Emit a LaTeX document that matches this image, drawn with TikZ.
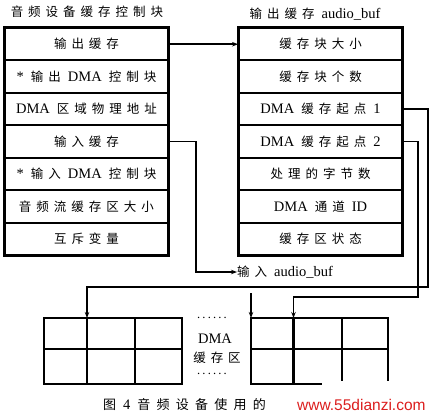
\documentclass[tikz,border=0pt]{standalone}
\usepackage{fontspec}
\setmainfont{Liberation Serif}
\newfontfamily\cjk[LetterSpace=40]{Noto Sans CJK SC}
\newfontfamily\cjkc[LetterSpace=48]{Noto Sans CJK SC}
\newfontfamily\wmfont{Liberation Sans}
\usetikzlibrary{arrows.meta}
\definecolor{wmred}{RGB}{220,30,30}
\newcommand\lat[1]{{\fontsize{14.5}{15}\selectfont #1}}
\newcommand\gp{\hspace{7pt}}
\newcommand\dotrow{.\kern2.2pt.\kern2.2pt.\kern2.2pt.\kern2.2pt.\kern2.2pt.}
\begin{document}
\begin{tikzpicture}[x=1pt,y=-1pt,
  cell/.style={draw, line width=1.9pt, minimum width=163pt, minimum height=32.43pt,
    inner sep=0pt, font=\fontsize{12.5}{15}\selectfont},
  conn/.style={line width=1.6pt, -{Stealth[length=6pt,width=4.5pt]}},
  lbl/.style={inner sep=0pt, font=\fontsize{12.5}{15}\selectfont},
  gridline/.style={line width=1.9pt},
  thickline/.style={line width=2.8pt}]
\useasboundingbox (0,0) rectangle (432,416);
% titles
\node[lbl] (tl) at (87,12) {\cjk 音频设备缓存控制块};
\node[lbl] (tr) at (315,14) {{\cjk 输出缓存}\gp\lat{audio\_buf}};
% left table
\foreach \t [count=\i] in {{\cjk 输出缓存},{\lat{*}\gp{\cjk 输出}\gp\lat{DMA}\gp{\cjk 控制块}},{\lat{DMA}\gp{\cjk 区域物理地址}},{\cjk 输入缓存},{\lat{*}\gp{\cjk 输入}\gp\lat{DMA}\gp{\cjk 控制块}},{\cjk 音频流缓存区大小},{\cjk 互斥变量}}
  \node[cell] (l\i) at (86.5,{28+32.43*\i-16.215}) {\t};
\draw[line width=2.2pt] (l1.north west) rectangle (l7.south east);
% right table
\foreach \t [count=\i] in {{\cjk 缓存块大小},{\cjk 缓存块个数},{\lat{DMA}\gp{\cjk 缓存起点}\gp\lat{1}},{\lat{DMA}\gp{\cjk 缓存起点}\gp\lat{2}},{\cjk 处理的字节数},{\lat{DMA}\gp{\cjk 通道}\gp\lat{ID}},{\cjk 缓存区状态}}
  \node[cell] (r\i) at (320.5,{28+32.43*\i-16.215}) {\t};
\draw[line width=2.2pt] (r1.north west) rectangle (r7.south east);
% input label
\node[lbl, anchor=west] (inb) at (237,272) {{\cjk 输入}\gp\lat{audio\_buf}};
% coordinates
\coordinate (a1) at (428,287);
\coordinate (a2) at (418,297);
\coordinate (g1) at (87,318);
\coordinate (g2) at (293.5,318);
\coordinate (g3) at (251,318);
\coordinate (s0) at (251,293);
% grids
\draw[gridline] (44,318) rectangle (182,384);
\draw[gridline] (44,349) -- (182,349);
\draw[gridline] (135,318) -- (135,384);
\draw[thickline] (87,318) -- (87,384);
\draw[gridline] (251,318) rectangle (388,384);
\draw[gridline] (251,349) -- (388,349);
\draw[gridline] (342,318) -- (342,384);
\draw[thickline] (293.5,318) -- (293.5,384);
% connectors
\draw[conn] (l1.east) -- (r1.west);
\draw[conn] (l4.east) -- ++(27,0) |- (inb.west);
\draw[conn] (r3.east) -| (a1) -| (g1);
\draw[conn] (r4.east) -| (a2) -| (g2);
\draw[conn] (s0) -- (g3);
% middle text
\node[lbl] (d1) at (212,318) {\dotrow};
\node[lbl] (dma) at (215,339) {\lat{DMA}};
\node[lbl] (hcq) at (217,358) {\cjk 缓存区};
\node[lbl] (d2) at (212,374) {\dotrow};
% caption and watermark
\fill[white] (322,380.5) rectangle (432,416);
\node[lbl, anchor=west, font=\fontsize{13}{14}\selectfont] (cap) at (103,405) {{\cjkc 图}\gp\lat{4}\gp{\cjkc 音频设备使用的}};
\node[anchor=west, inner sep=0pt, text=wmred, font=\wmfont\fontsize{15.5}{17}\selectfont] (wm) at (297,405) {www.55dianzi.com};
\end{tikzpicture}
\end{document}
